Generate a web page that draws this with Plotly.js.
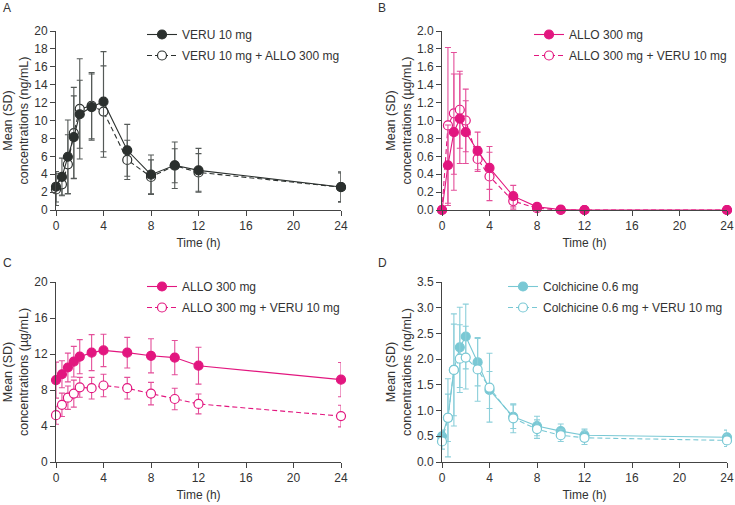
<!DOCTYPE html>
<html>
<head>
<meta charset="utf-8">
<script src="https://cdn.plot.ly/plotly-3.0.1.min.js"></script>
<style>html,body{margin:0;padding:0;background:#fff;}#chart{width:735px;height:505px;}</style>
</head>
<body>
<div id="chart"></div>
<script>
// ---- Data ----
const time = [0, 0.5, 1, 1.5, 2, 3, 4, 6, 8, 10, 12, 24];
const xTicks = [0, 4, 8, 12, 16, 20, 24];
const panelLetters = ["A", "B", "C", "D"];
const xTitle = "Time (h)";
const yTitles = [
  "Mean (SD)<br>concentrations (ng/mL)",
  "Mean (SD)<br>concentrations (µg/mL)",
  "Mean (SD)<br>concentrations (µg/mL)",
  "Mean (SD)<br>concentrations (ng/mL)"
];

// Panel A: VERU
const seriesA1Name = "VERU 10 mg";
const seriesA1 = [2.6, 3.7, 5.95, 8.15, 10.7, 11.5, 12.1, 6.67, 3.95, 5.0, 4.43, 2.57];
const seriesA1SD = [1.7, 2.1, 4.1, 4.6, 3.8, 3.7, 5.6, 2.9, 2.2, 2.6, 2.45, 1.7];
const seriesA2Name = "VERU 10 mg + ALLO 300 mg";
const seriesA2 = [2.3, 2.87, 5.1, 8.6, 11.3, 11.65, 11.0, 5.6, 3.7, 4.95, 4.2, 2.55];
const seriesA2SD = [1.8, 1.2, 3.3, 5.1, 5.6, 3.7, 5.1, 2.2, 1.9, 1.9, 2.1, 1.6];
const yTicksA = [0, 2, 4, 6, 8, 10, 12, 14, 16, 18, 20];

// Panel B: ALLO
const seriesB1Name = "ALLO 300 mg";
const seriesB1 = [0, 0.50, 0.87, 1.02, 0.87, 0.66, 0.47, 0.155, 0.035, 0.005, 0, 0];
const seriesB1SD = [0, 0.45, 0.65, 0.50, 0.35, 0.21, 0.24, 0.12, 0.035, 0, 0, 0];
const seriesB2Name = "ALLO 300 mg + VERU 10 mg";
const seriesB2 = [0, 0.945, 1.08, 1.12, 1.0, 0.57, 0.375, 0.10, 0.02, 0, 0, 0];
const seriesB2SD = [0, 0.87, 0.68, 0.43, 0.35, 0.14, 0.27, 0.09, 0.02, 0, 0, 0];
const yTicksB = [0, 0.2, 0.4, 0.6, 0.8, 1.0, 1.2, 1.4, 1.6, 1.8, 2.0];

// Panel C: ALLO (oxypurinol scale)
const seriesC1Name = "ALLO 300 mg";
const seriesC1 = [9.1, 9.75, 10.5, 11.15, 11.7, 12.15, 12.4, 12.15, 11.8, 11.6, 10.7, 9.15];
const seriesC1SD = [2.0, 1.5, 1.6, 1.7, 1.9, 2.0, 1.8, 1.7, 1.9, 1.9, 2.05, 1.9];
const seriesC2Name = "ALLO 300 mg + VERU 10 mg";
const seriesC2 = [5.2, 6.35, 7.15, 7.6, 8.3, 8.2, 8.5, 8.2, 7.6, 7.0, 6.45, 5.1];
const seriesC2SD = [1.0, 1.3, 1.3, 1.5, 1.1, 1.2, 1.25, 1.2, 1.25, 1.2, 1.1, 1.2];
const yTicksC = [0, 4, 8, 12, 16, 20];

// Panel D: Colchicine
const seriesD1Name = "Colchicine 0.6 mg";
const seriesD1 = [0.50, 0.86, 1.79, 2.23, 2.44, 1.94, 1.40, 0.88, 0.70, 0.60, 0.52, 0.48];
const seriesD1SD = [0.12, 0.46, 0.89, 0.78, 0.63, 0.46, 0.36, 0.23, 0.19, 0.14, 0.12, 0.14];
const seriesD2Name = "Colchicine 0.6 mg + VERU 10 mg";
const seriesD2 = [0.40, 0.86, 1.79, 2.01, 2.03, 1.80, 1.445, 0.85, 0.64, 0.52, 0.47, 0.42];
const seriesD2SD = [0.15, 0.76, 1.09, 0.66, 0.61, 0.62, 0.67, 0.28, 0.18, 0.12, 0.13, 0.12];
const yTicksD = [0, 0.5, 1.0, 1.5, 2.0, 2.5, 3.0, 3.5];

// ---- Styling ----
const W = 735, H = 505;
const FONT = "Liberation Sans, Arial, sans-serif";
const AXC = "#444";
const colA = "#2b302e", errA = "#555a58";
const colB = "#e2167f", errB = "#e44f9a";
const colD = "#79c8d4", errD = "#8ccfda";

function px(x) { return x / W; }
function py(y) { return 1 - y / H; }

const panels = [
  {xa: "x", ya: "y", lg: "legend", xd: [px(56), px(341)], yd: [py(210), py(31)], range: [0, 20], ticks: yTicksA, fmt: "d"},
  {xa: "x2", ya: "y2", lg: "legend2", xd: [px(442), px(727)], yd: [py(210), py(31)], range: [0, 2], ticks: yTicksB, fmt: ".1f"},
  {xa: "x3", ya: "y3", lg: "legend3", xd: [px(56), px(341)], yd: [py(462), py(282)], range: [0, 20], ticks: yTicksC, fmt: "d"},
  {xa: "x4", ya: "y4", lg: "legend4", xd: [px(442), px(727)], yd: [py(462), py(282)], range: [0, 3.5], ticks: yTicksD, fmt: ".1f"}
];

function tr(p, name, y, sd, color, errColor, filled, dashed, rank) {
  return {
    type: "scatter", mode: "lines+markers", x: time, y: y, name: name,
    xaxis: p.xa, yaxis: p.ya, legend: p.lg, legendrank: rank, legendgroup: p.lg + "_" + rank,
    cliponaxis: false,
    line: {color: color, width: 1.1, dash: dashed ? "5px,3px" : "solid"},
    marker: {size: 9, color: filled ? color : "#ffffff", line: {color: color, width: 1.2}},
    error_y: {type: "data", array: sd, visible: true, color: errColor, thickness: 1.1, width: 3}
  };
}

const P = panels;
const data = [
  tr(P[0], seriesA2Name, seriesA2, seriesA2SD, colA, errA, false, true, 2),
  tr(P[0], seriesA1Name, seriesA1, seriesA1SD, colA, errA, true, false, 1),
  tr(P[1], seriesB2Name, seriesB2, seriesB2SD, colB, errB, false, true, 2),
  tr(P[1], seriesB1Name, seriesB1, seriesB1SD, colB, errB, true, false, 1),
  tr(P[2], seriesC1Name, seriesC1, seriesC1SD, colB, errB, true, false, 1),
  tr(P[2], seriesC2Name, seriesC2, seriesC2SD, colB, errB, false, true, 2),
  tr(P[3], seriesD1Name, seriesD1, seriesD1SD, colD, errD, true, false, 1),
  tr(P[3], seriesD2Name, seriesD2, seriesD2SD, colD, errD, false, true, 2)
];

const layout = {
  width: W, height: H,
  margin: {l: 0, r: 0, t: 0, b: 0},
  paper_bgcolor: "#ffffff", plot_bgcolor: "rgba(0,0,0,0)",
  font: {family: FONT, size: 12, color: "#333"},
  showlegend: true,
  annotations: [],
  hovermode: false
};

const legendPos = [[px(142), py(20)], [px(529), py(20)], [px(142), py(272)], [px(503), py(272)]];

panels.forEach((p, i) => {
  const xk = i === 0 ? "xaxis" : "xaxis" + (i + 1);
  const yk = i === 0 ? "yaxis" : "yaxis" + (i + 1);
  const lk = i === 0 ? "legend" : "legend" + (i + 1);
  layout[xk] = {
    domain: p.xd, anchor: p.ya, range: [0, 24], tickvals: xTicks,
    showline: true, linecolor: AXC, linewidth: 1, ticks: "outside", ticklen: 5, tickcolor: AXC,
    showgrid: false, zeroline: false, tickfont: {size: 12, color: "#333"},
    title: {text: xTitle, font: {size: 12, color: "#333"}, standoff: 6}
  };
  layout[yk] = {
    domain: p.yd, anchor: p.xa, range: p.range, tickvals: p.ticks, tickformat: p.fmt,
    showline: true, linecolor: AXC, linewidth: 1, ticks: "outside", ticklen: 5, tickcolor: AXC,
    showgrid: false, zeroline: false, tickfont: {size: 12, color: "#333"},
    title: {text: yTitles[i], font: {size: 12.5, color: "#333"}, standoff: 2}
  };
  layout[lk] = {
    x: legendPos[i][0], y: legendPos[i][1], xanchor: "left", yanchor: "top",
    bgcolor: "rgba(0,0,0,0)", borderwidth: 0, font: {size: 12, color: "#333"},
    traceorder: "grouped", tracegroupgap: 2
  };
  layout.annotations.push({
    text: panelLetters[i], xref: "paper", yref: "paper",
    x: i % 2 === 0 ? px(1) : px(376), y: i < 2 ? py(8) : py(263),
    xanchor: "left", yanchor: "middle", showarrow: false,
    font: {size: 12, color: "#333"}
  });
});

Plotly.newPlot("chart", data, layout, {staticPlot: true, displayModeBar: false});
</script>
</body>
</html>
